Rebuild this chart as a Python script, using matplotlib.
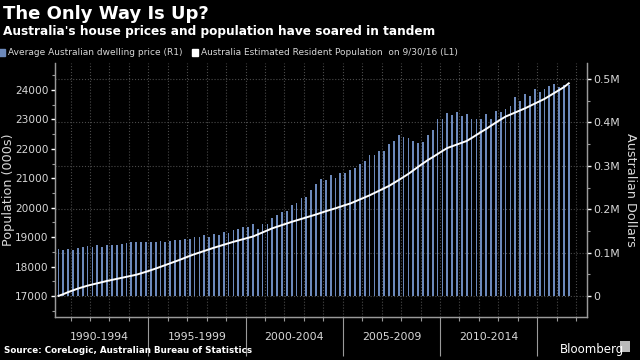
import numpy as np
import pandas as pd
import matplotlib
matplotlib.use("Agg")
from matplotlib import pyplot as plt
from matplotlib.patches import Patch, Rectangle
from matplotlib.ticker import MultipleLocator, FuncFormatter
import matplotlib.transforms as mtransforms

# quarterly data, 1990 Q2 .. 2016 Q3
quarters = pd.period_range("1990Q2", "2016Q3", freq="Q")

# average dwelling price, thousands of AUD (right axis)
price_k = [
    108, 106, 108, 107, 111, 114, 116, 114, 117, 114,
    117, 117, 117, 120, 121, 124, 124, 125, 124, 124,
    125, 126, 125, 127, 128, 128, 132, 132, 135, 136,
    140, 137, 143, 140, 147, 145, 152, 155, 159, 159,
    165, 154, 165, 167, 179, 187, 194, 197, 210, 214,
    225, 227, 244, 258, 269, 267, 279, 273, 284, 284,
    290, 296, 304, 310, 325, 325, 333, 334, 350, 358,
    370, 366, 363, 358, 353, 354, 370, 382, 407, 409,
    421, 416, 423, 415, 419, 409, 409, 409, 419, 409,
    427, 425, 432, 437, 459, 449, 465, 460, 478, 469,
    478, 484, 488, 482, 487, 487,
]

# estimated resident population, thousands (left axis)
population = [
    17000, 17060, 17130, 17190, 17250, 17300, 17350, 17390, 17430, 17470,
    17510, 17545, 17580, 17615, 17650, 17685, 17720, 17770, 17820, 17875,
    17930, 17990, 18050, 18110, 18170, 18230, 18295, 18360, 18420, 18475,
    18530, 18585, 18640, 18690, 18740, 18790, 18840, 18885, 18930, 18975,
    19020, 19090, 19160, 19230, 19300, 19355, 19410, 19465, 19520, 19570,
    19620, 19670, 19720, 19770, 19825, 19880, 19930, 19980, 20035, 20090,
    20140, 20210, 20280, 20350, 20420, 20500, 20580, 20660, 20740, 20840,
    20940, 21045, 21150, 21270, 21390, 21505, 21620, 21720, 21825, 21930,
    22030, 22090, 22150, 22210, 22270, 22370, 22475, 22580, 22680, 22790,
    22895, 23000, 23100, 23170, 23240, 23310, 23380, 23460, 23540, 23620,
    23700, 23800, 23900, 24000, 24100, 24230,
]

periods = ["1990-1994", "1995-1999", "2000-2004", "2005-2009", "2010-2014"]

bar_color = "#6c89bb"
text_color = "#d8d8d8"
grid_color = "#4a4a4a"
spine_color = "#9a9a9a"

x = np.array([q.year + (q.quarter - 0.5) / 4 for q in quarters])
prices = np.array(price_k) * 1000

fig = plt.figure(figsize=(6.4, 3.6), dpi=100, facecolor="black")
ax = fig.add_axes([0.086, 0.1194, 0.831, 0.7056])
ax2 = ax.twinx()

# bars on the right axis, drawn under the population line
ax2.bar(x, prices, width=0.09, color=bar_color, zorder=2)
ax.plot(x, population, color="white", lw=1.4, zorder=3)
ax.set_zorder(ax2.get_zorder() + 1)
ax.patch.set_visible(False)
ax2.set_facecolor("black")

ax.set_xlim(1990.2, 2017.555)
ax.set_ylim(16283, 24921)

# grids
ax2.yaxis.set_minor_locator(MultipleLocator(50000))
ax2.set_yticks([0, 100000, 200000, 300000, 400000, 500000])
ax2.set_ylim(-48400, 536900)
ax2.grid(axis="y", color=grid_color, linestyle=":", lw=0.8, zorder=0)
for yr in range(1991, 2018):
    ax2.axvline(yr, color=grid_color, linestyle=":", lw=0.8, zorder=0)
ax2.yaxis.set_major_formatter(
    FuncFormatter(lambda v, p: "0" if v == 0 else f"{v / 1e6:.1f}M"))

ax.yaxis.set_minor_locator(MultipleLocator(500))
ax.set_yticks(range(17000, 24001, 1000))
ax.set_ylim(16283, 24921)

# x axis: yearly minor ticks, long separators every five years
ax.set_xticks([1995, 2000, 2005, 2010, 2015])
ax.set_xticks(range(1991, 2018), minor=True)
ax.set_xticklabels([])
ax.tick_params(axis="x", which="major", length=28, color=spine_color, width=0.8)
ax.tick_params(axis="x", which="minor", length=3, color=spine_color, width=0.8)
ax2.tick_params(axis="x", which="both", length=0)

trans = mtransforms.blended_transform_factory(ax.transData, ax.transAxes)
for p in periods:
    ax.text(int(p[:4]) + 2.5, -0.079, p, transform=trans, ha="center",
            va="center", color=text_color, fontsize=7.8)

ax.tick_params(axis="y", which="major", length=3, width=1, color="white",
               labelcolor=text_color, labelsize=7.6, pad=1.5)
ax.tick_params(axis="y", which="minor", length=2, width=0.8, color=spine_color)
ax2.tick_params(axis="y", which="major", length=3, width=1, color="white",
                labelcolor=text_color, labelsize=7.8, pad=1.5)
ax2.tick_params(axis="y", which="minor", length=2, width=0.8, color=spine_color)

for a in (ax, ax2):
    a.spines["top"].set_visible(False)
    for side in ("left", "right", "bottom"):
        a.spines[side].set_color(spine_color)
        a.spines[side].set_linewidth(0.9)

ax.set_ylabel("Population (000s)", color=text_color, fontsize=9.2)
ax.yaxis.set_label_coords(-0.075, 0.5)
ax2.set_ylabel("Australian Dollars", color=text_color, fontsize=9.2,
               rotation=270, labelpad=12)

# titles and legend
fig.text(0.004, 0.985, "The Only Way Is Up?", color="white", fontsize=13,
         fontweight="bold", va="top", ha="left")
fig.text(0.004, 0.912, "Australia's house prices and population have soared in tandem",
         color="white", fontsize=8.7, fontweight="bold", va="center", ha="left")

handles = [Patch(color=bar_color), Patch(color="white")]
labels = ["Average Australian dwelling price (R1)",
          "Australia Estimated Resident Population  on 9/30/16 (L1)"]
leg = fig.legend(handles, labels, loc="center left", bbox_to_anchor=(-0.002, 0.853),
                 ncol=2, frameon=False, fontsize=6.5, handlelength=0.75,
                 handleheight=0.75, handletextpad=0.3, columnspacing=1.0,
                 borderaxespad=0, borderpad=0)
for t in leg.get_texts():
    t.set_color(text_color)

fig.text(0.006, 0.02, "Source: CoreLogic, Australian Bureau of Statistics",
         color="white", fontsize=6.3, fontweight="bold", va="baseline", ha="left")
fig.text(0.875, 0.02, "Bloomberg", color="white", fontsize=8.5,
         va="baseline", ha="left")
fig.add_artist(Rectangle((0.968, 0.022), 0.016, 0.03, transform=fig.transFigure,
                         facecolor="#bbbbbb", edgecolor="none"))

fig.savefig("out.png", dpi=100, facecolor="black")
